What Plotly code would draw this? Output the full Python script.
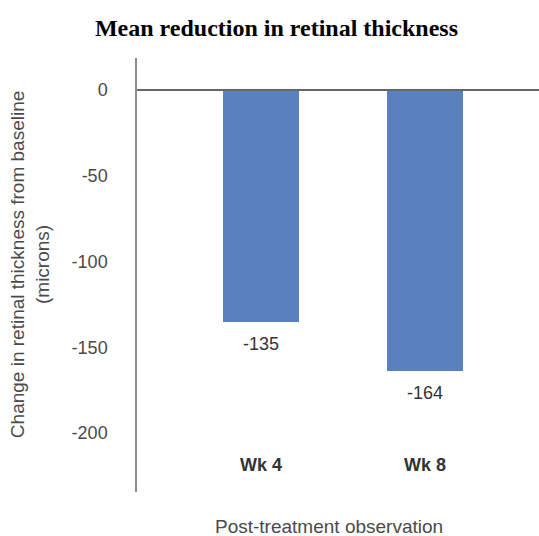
import plotly.graph_objects as go

# Mean change in retinal thickness from baseline (microns)
weeks = ["Wk 4", "Wk 8"]
change = [-135, -164]
y_ticks = [0, -50, -100, -150, -200]

BAR_COLOR = "#5A80BF"
GRAY_TEXT = "#4a4a4a"
FONT = "Liberation Sans, Arial, sans-serif"

fig = go.Figure()
fig.add_trace(go.Bar(
    x=weeks, y=change, width=0.463,
    marker=dict(color=BAR_COLOR, line=dict(width=0)),
    showlegend=False, hoverinfo="skip",
))

# value labels under each bar end
for w, v in zip(weeks, change):
    fig.add_annotation(x=w, y=v, text=str(v), showarrow=False,
                       yanchor="top", yshift=-10,
                       font=dict(family=FONT, size=18, color="#333333"))

# category labels drawn inside the plot area near the bottom
for w in weeks:
    fig.add_annotation(x=w, y=-218.5, text="<b>%s</b>" % w, showarrow=False,
                       font=dict(family=FONT, size=18, color="#333333"))

# zero line
fig.add_shape(type="line", xref="paper", yref="y", x0=0, x1=1, y0=0, y1=0,
              line=dict(color="#666666", width=2))

# y-axis title
fig.add_annotation(xref="paper", yref="paper", x=-0.328, y=0.523,
                   text="Change in retinal thickness from baseline<br>(microns)",
                   textangle=-90, showarrow=False,
                   font=dict(family=FONT, size=19, color=GRAY_TEXT))

# x-axis title
fig.add_annotation(xref="paper", yref="paper", x=0.478, y=-0.109,
                   text="Post-treatment observation", showarrow=False,
                   font=dict(family=FONT, size=19, color=GRAY_TEXT))

fig.update_layout(
    width=539, height=536,
    margin=dict(l=137, r=0, t=58, b=44),
    paper_bgcolor="white", plot_bgcolor="white",
    title=dict(text="<b>Mean reduction in retinal thickness</b>",
               x=0.513, xanchor="center", y=1 - 28 / 536, yanchor="middle",
               font=dict(family="Liberation Serif, Times New Roman, serif",
                         size=24, color="black")),
    bargap=0,
)
fig.update_xaxes(range=[-0.756, 1.695], showticklabels=False, showgrid=False,
                 zeroline=False, showline=False, ticks="")
fig.update_yaxes(range=[-234.3, 18.6], tickvals=y_ticks,
                 ticktext=[str(t) for t in y_ticks],
                 showgrid=False, zeroline=False,
                 showline=True, linecolor="#8c8c8c", linewidth=1.5,
                 ticks="outside", ticklen=24, tickcolor="rgba(0,0,0,0)",
                 tickfont=dict(family=FONT, size=18, color=GRAY_TEXT))

fig.write_html("out.html")
